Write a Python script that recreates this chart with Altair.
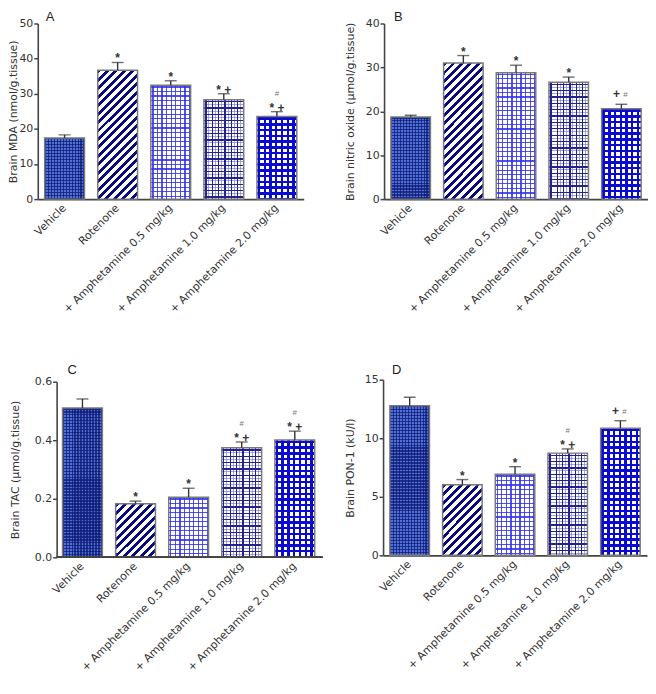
import altair as alt
import pandas as pd

groups = ["Vehicle", "Rotenone", "+  Amphetamine 0.5 mg/kg",
          "+  Amphetamine 1.0 mg/kg", "+  Amphetamine 2.0 mg/kg"]

# Panel A: Brain MDA
mda_mean = [17.4, 36.7, 32.4, 28.3, 23.5]
mda_top = [18.3, 38.9, 33.7, 30.0, 24.9]
mda_sig = ["", "*", "*", "* +", "* +"]
mda_sig_l = ["", "", "", "", ""]
mda_hash_up = ["", "", "", "", "#"]
mda_hash_r = ["", "", "", "", ""]

# Panel B: Brain nitric oxide
no_mean = [18.7, 31.0, 28.8, 26.6, 20.6]
no_top = [19.1, 32.7, 30.5, 27.8, 21.6]
no_sig = ["", "*", "*", "*", ""]
no_sig_l = ["", "", "", "", "+"]
no_hash_up = ["", "", "", "", ""]
no_hash_r = ["", "", "", "", "#"]

# Panel C: Brain TAC
tac_mean = [0.51, 0.183, 0.205, 0.374, 0.401]
tac_top = [0.541, 0.192, 0.236, 0.394, 0.431]
tac_sig = ["", "*", "*", "* +", "* +"]
tac_sig_l = ["", "", "", "", ""]
tac_hash_up = ["", "", "", "#", "#"]
tac_hash_r = ["", "", "", "", ""]

# Panel D: Brain PON-1
pon_mean = [12.77, 6.02, 6.92, 8.73, 10.85]
pon_top = [13.5, 6.47, 7.57, 9.09, 11.5]
pon_sig = ["", "*", "*", "* +", ""]
pon_sig_l = ["", "", "", "", "+"]
pon_hash_up = ["", "", "", "#", ""]
pon_hash_r = ["", "", "", "", "#"]

H = 177
BAR_W = 40.0
TR = "rgba(255,255,255,0)"
FONT = "DejaVu Sans"


def line_stops(L, period, width, color, phase=0.0):
    stops = []
    pos = phase
    while pos < L:
        s = max(pos, 0) / L
        e = min(pos + width, L) / L
        stops += [{"offset": s, "color": TR}, {"offset": s, "color": color},
                  {"offset": e, "color": color}, {"offset": e, "color": TR}]
        pos += period
    return stops


def vgrad(period, width, color, phase=0.0):
    return {"gradient": "linear", "x1": 0, "y1": 0, "x2": 1, "y2": 0,
            "stops": line_stops(BAR_W, period, width, color, phase)}


def hgrad(h, period, width, color, phase=0.0):
    return {"gradient": "linear", "x1": 0, "y1": 0, "x2": 0, "y2": 1,
            "stops": line_stops(h, period, width, color, phase)}


def dgrad(h, period, width, color):
    L = BAR_W + h * h / BAR_W
    return {"gradient": "linear", "x1": 0, "y1": 0, "x2": 1, "y2": h / BAR_W,
            "stops": line_stops(L, period, width, color)}


def pattern_fills(gi, h):
    if gi == 0:
        return ["#5070d8", vgrad(3, 1.5, "rgba(14,26,115,0.75)"),
                hgrad(h, 3, 1.5, "rgba(14,26,115,0.75)")]
    if gi == 1:
        return ["#ffffff", dgrad(h, 8.5, 4.0, "#0a0a80")]
    if gi == 2:
        return ["#ffffff", vgrad(4.6, 1.2, "rgba(50,50,235,0.85)", 1.5),
                hgrad(h, 4.6, 1.2, "rgba(50,50,235,0.85)", 1.0)]
    if gi == 3:
        return ["#ffffff", vgrad(6.4, 1.0, "rgba(140,140,215,0.8)", 4.6),
                hgrad(h, 6.4, 1.0, "rgba(140,140,215,0.8)", 4.6),
                vgrad(6.4, 1.3, "#23238f", 1.4),
                hgrad(h, 6.4, 1.3, "#23238f", 1.4)]
    return ["#ffffff", vgrad(5.8, 2.4, "#0a0ad0", 0.8),
            hgrad(h, 5.8, 2.4, "#0a0ad0", 0.8)]


def panel(letter, ytitle, means, tops, sig, sig_l, hash_up, hash_r,
          dmax, ticks, fmt, width, title_pad, title_dx, title_off,
          inset=0, pad_outer=0.13, band_align=0.5):
    df = pd.DataFrame({"g": groups, "mean": means, "top": tops, "sig": sig,
                       "sig_l": sig_l, "hash_up": hash_up, "hash_r": hash_r})
    xscale = alt.Scale(paddingInner=0.25, paddingOuter=pad_outer, align=band_align)
    yscale = alt.Scale(domain=[0, dmax], nice=False, zero=True)
    xaxis = alt.Axis(labelAngle=-45, labelAlign="right",
                     labelBaseline="middle", ticks=False,
                     labelPadding=7, labelFont=FONT, labelFontSize=11,
                     labelColor="#333", domain=(inset == 0), domainColor="#444",
                     domainWidth=1.6, labelLimit=300, labelOverlap=False)
    yaxis = alt.Axis(values=ticks, format=fmt, grid=False,
                     tickSize=4, tickWidth=1.5, tickColor="#444",
                     domainColor="#444", domainWidth=1.6,
                     labelFont=FONT, labelFontSize=11,
                     labelColor="#333", labelPadding=1,
                     labelOverlap=False, labelFlush=False,
                     titleFont=FONT, titleFontSize=11,
                     titleFontWeight="normal", titleColor="#333",
                     titlePadding=title_pad, offset=-inset)
    xenc = alt.X("g:N", sort=groups, title=None, scale=xscale, axis=xaxis)
    ymean = alt.Y("mean:Q", title=ytitle, scale=yscale, axis=yaxis)
    ytop = alt.Y("top:Q", title=ytitle, scale=yscale, axis=yaxis)
    base = alt.Chart(df)
    layers = []
    for gi, g in enumerate(groups):
        h = means[gi] / dmax * H
        sub = base.transform_filter(alt.datum.g == g)
        for f in pattern_fills(gi, h):
            layers.append(sub.mark_bar(fill=f, strokeWidth=0).encode(x=xenc, y=ymean))
    layers.append(base.mark_bar(filled=False, stroke="#7a7a7a",
                                strokeWidth=1.5).encode(x=xenc, y=ymean))
    if inset:
        # x-axis baseline starting at the inset y-axis
        layers.append(base.mark_rule(color="#444", strokeWidth=1.6).encode(
            x=alt.value(inset), x2=alt.value(width), y=alt.value(H)))
    layers.append(base.mark_rule(color="#333", strokeWidth=1.4).encode(
        x=xenc, y=ymean, y2="top:Q"))
    layers.append(base.mark_tick(color="#333", thickness=1.4, size=12,
                                 orient="horizontal").encode(x=xenc, y=ytop))
    layers.append(base.mark_text(font="Liberation Sans", fontSize=12,
                                 fontWeight="bold", color="#333",
                                 baseline="alphabetic", dy=0).encode(
        x=xenc, y=ytop, text="sig:N"))
    layers.append(base.mark_text(font="Liberation Sans", fontSize=12,
                                 fontWeight="bold", color="#333",
                                 baseline="alphabetic", dy=-6, dx=-5).encode(
        x=xenc, y=ytop, text="sig_l:N"))
    layers.append(base.mark_text(font="Liberation Sans", fontSize=8,
                                 color="#777", baseline="alphabetic",
                                 dy=-16).encode(
        x=xenc, y=ytop, text="hash_up:N"))
    layers.append(base.mark_text(font="Liberation Sans", fontSize=8,
                                 color="#777", baseline="alphabetic",
                                 dy=-7, dx=4).encode(
        x=xenc, y=ytop, text="hash_r:N"))
    return alt.layer(*layers).properties(
        width=width, height=H,
        title=alt.TitleParams(letter, anchor="start", frame="group", dx=title_dx,
                              offset=title_off, font="Liberation Sans",
                              fontSize=13, fontWeight="normal", color="#222"))


pA = panel("A", "Brain MDA (nmol/g.tissue)", mda_mean, mda_top, mda_sig, mda_sig_l,
           mda_hash_up, mda_hash_r, 50, [0, 10, 20, 30, 40, 50], "d", 268, 0, 8, -6)
pB = panel("B", "Brain nitric oxide (µmol/g.tissue)", no_mean, no_top, no_sig, no_sig_l,
           no_hash_up, no_hash_r, 40, [0, 10, 20, 30, 40], "d", 266, 10, 10, -6)
pC = panel("C", "Brain TAC (µmol/g.tissue)", tac_mean, tac_top, tac_sig, tac_sig_l,
           tac_hash_up, tac_hash_r, 0.6, [0.0, 0.2, 0.4, 0.6], ".1f", 287, 14, 30, -1,
           inset=19, pad_outer=0.307, band_align=0.76)
pD = panel("D", "Brain PON-1 (kU/l)", pon_mean, pon_top, pon_sig, pon_sig_l,
           pon_hash_up, pon_hash_r, 15, [0, 5, 10, 15], "d", 266, 9, 9, -3)

chart = alt.concat(pA, pB, pC, pD, columns=2, spacing={"row": 47, "column": 21},
                   align="none", bounds="full").properties(
    padding={"left": 0, "top": 0, "right": 0, "bottom": 0}
).configure(font=FONT).configure_view(stroke=None, strokeWidth=0)

chart.save("out.html", embed_options={"renderer": "svg", "actions": False})
